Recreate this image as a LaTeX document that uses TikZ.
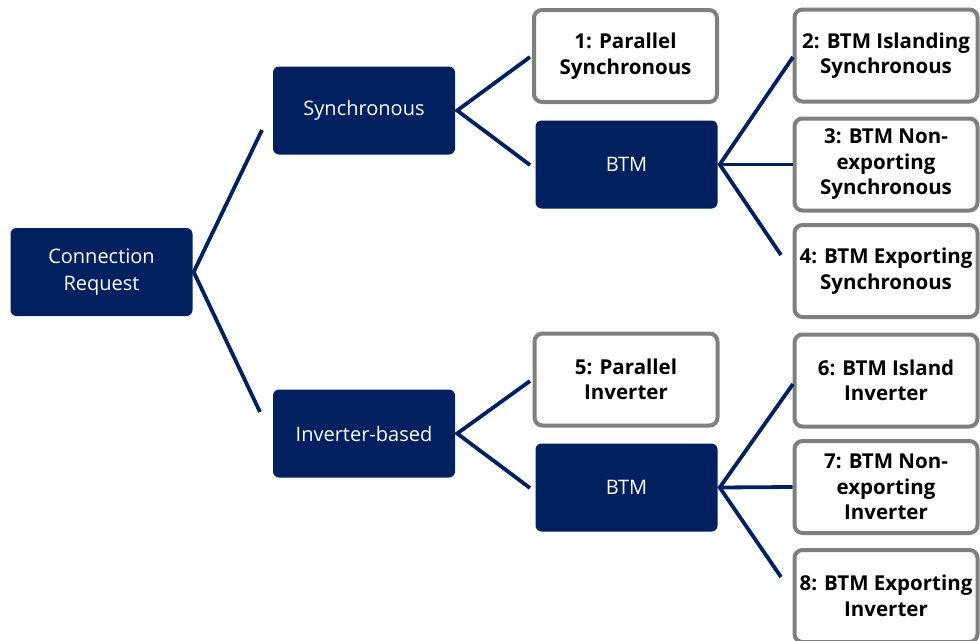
\documentclass[tikz,border=0pt]{standalone}
\usepackage{fontspec}
\setmainfont{Open Sans}
\definecolor{navy}{RGB}{0,32,96}
\definecolor{frame}{RGB}{127,127,127}

\begin{document}
\begin{tikzpicture}[x=1pt, y=-1pt]

    \tikzset{navybox/.style={%
      fill=navy,%
      rectangle,%
      rounded corners=6pt,%
      minimum width=182pt,%
      minimum height=88pt,%
      inner sep=0pt,%
      align=center,%
      text=white,%
      font=\fontsize{20}{26.5}\selectfont}%
    };

    \tikzset{leafbox/.style={%
      draw=frame,%
      line width=4pt,%
      fill=white,%
      rectangle,%
      rounded corners=8pt,%
      minimum width=183pt,%
      minimum height=92pt,%
      inner sep=0pt,%
      align=center,%
      font=\fontsize{20.5}{25.5}\selectfont\bfseries}%
    };

    \tikzset{link/.style={draw=navy, line width=3.8pt}};

    \useasboundingbox (0,0) rectangle (980,640);

    %%%%%%%%%%%%%%%
    %   request   %
    %%%%%%%%%%%%%%%
    \node [navybox] (req) at (101.5, 272) {Connection\\Request};

    %%%%%%%%%%%%%%%
    %   types     %
    %%%%%%%%%%%%%%%
    \node [navybox] (syn) at (364, 110.5) {Synchronous};
    \node [navybox] (inv) at (364, 433.5) {Inverter-based};

    %%%%%%%%%%%%%%%
    %   second    %
    %%%%%%%%%%%%%%%
    \node [leafbox] (par1) at (625.5, 56) {1: Parallel\\Synchronous};
    \node [navybox] (btm1) at (626.5, 164.5) {BTM};
    \node [leafbox] (par5) at (626, 379.5) {5: Parallel\\Inverter};
    \node [navybox] (btm2) at (626.5, 487.5) {BTM};

    %%%%%%%%%%%%%%%
    %   leaves    %
    %%%%%%%%%%%%%%%
    \node [leafbox] (isl2) at (886, 55.5) {2: BTM Islanding\\Synchronous};
    \node [leafbox] (nex3) at (886, 164.5) {3: BTM Non-\\exporting\\Synchronous};
    \node [leafbox] (exp4) at (886, 271) {4: BTM Exporting\\Synchronous};
    \node [leafbox] (isl6) at (886, 380.5) {6: BTM Island\\Inverter};
    \node [leafbox] (nex7) at (886, 487) {7: BTM Non-\\exporting\\Inverter};
    \node [leafbox] (exp8) at (886, 596) {8: BTM Exporting\\Inverter};

    % free ends of the forks
    \coordinate (reqa) at (262, 130);
    \coordinate (reqb) at (260, 412);
    \coordinate (syna) at (530, 57);
    \coordinate (synb) at (530, 165);
    \coordinate (inva) at (530, 381);
    \coordinate (invb) at (530, 488);
    \coordinate (bt1a) at (793, 57);
    \coordinate (bt1c) at (781, 255);
    \coordinate (bt2a) at (793, 384);
    \coordinate (bt2c) at (781, 577);

    \draw [link] (reqa) -- ([xshift=1pt]req.east) -- (reqb);
    \draw [link] (syna) -- ([xshift=2pt]syn.east) -- (synb);
    \draw [link] (inva) -- ([xshift=2pt]inv.east) -- (invb);
    \draw [link] (bt1a) -- ([xshift=2pt]btm1.east) -- (bt1c);
    \draw [link] ([xshift=2pt]btm1.east) -- (nex3.west);
    \draw [link] (bt2a) -- ([xshift=2pt]btm2.east) -- (bt2c);
    \draw [link] ([xshift=2pt]btm2.east) -- (nex7.west);

  \end{tikzpicture}
\end{document}
